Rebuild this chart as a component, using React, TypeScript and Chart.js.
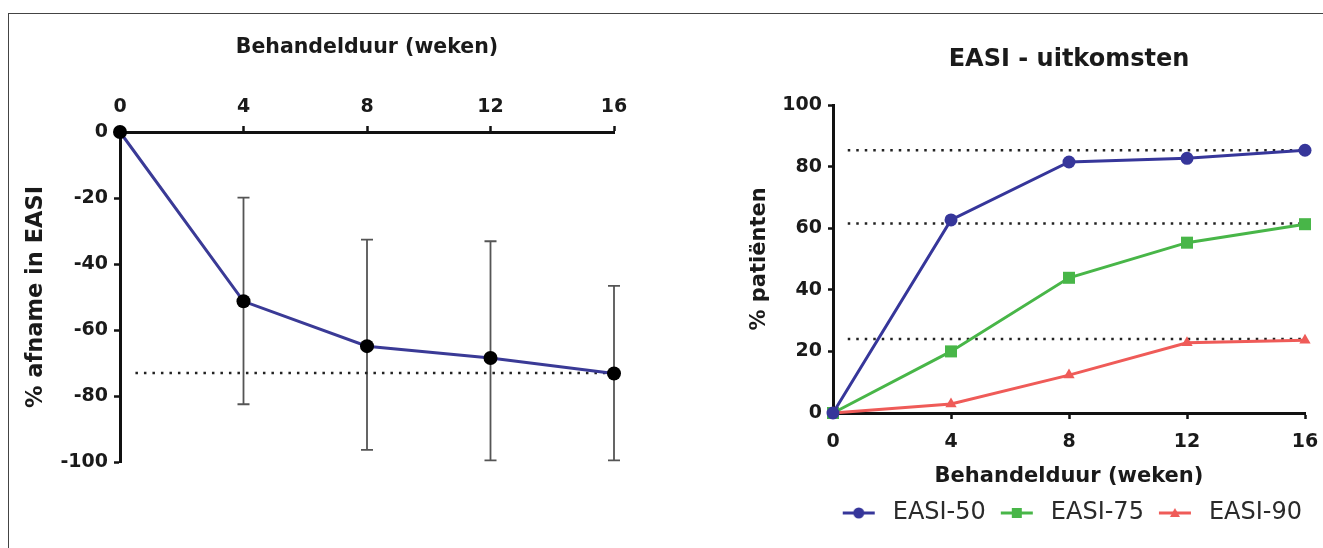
import React, { useEffect, useRef } from 'react';
import { Chart, registerables } from 'chart.js';

Chart.register(...registerables);

// ---------- data ----------
const weeks = [0, 4, 8, 12, 16];
const easiChange = [0, -51.3, -64.9, -68.5, -73.2];
const easiChangeUpper = [0, -19.9, -32.6, -33.1, -46.6];
const easiChangeLower = [0, -82.5, -96.3, -99.5, -99.5];
const leftRefLevel = -73;

const easi50 = [0, 62.7, 81.5, 82.7, 85.3];
const easi75 = [0, 20, 43.9, 55.3, 61.3];
const easi90 = [0, 2.9, 12.3, 22.8, 23.6];
const rightRefLevels = [85.3, 61.5, 24];
const refStart = 0.5;

const seriesLabels = ['EASI-50', 'EASI-75', 'EASI-90'];
const seriesColors = ['#36369a', '#48b648', '#ef5b58'];
const seriesStyles = ['circle', 'rect', 'triangle'];
const seriesRadius = [6.5, 8.5, 6.5];

const leftXTitle = 'Behandelduur (weken)';
const leftYTitle = '% afname in EASI';
const rightTitle = 'EASI - uitkomsten';
const rightXTitle = 'Behandelduur (weken)';
const rightYTitle = '% patiënten';

const FAMILY = "'DejaVu Sans', 'Liberation Sans', sans-serif";

function pts(vals: number[]) {
  return weeks.map((w, i) => ({ x: w, y: vals[i] }));
}

function makeIcon(color: string, style: string) {
  const c = document.createElement('canvas');
  c.width = 42;
  c.height = 16;
  const ctx = c.getContext('2d')!;
  ctx.strokeStyle = color;
  ctx.fillStyle = color;
  ctx.lineWidth = 3;
  ctx.beginPath();
  ctx.moveTo(4, 8);
  ctx.lineTo(36, 8);
  ctx.stroke();
  const cx = 20, cy = 8;
  ctx.beginPath();
  if (style === 'circle') {
    ctx.arc(cx, cy, 5.5, 0, Math.PI * 2);
    ctx.fill();
  } else if (style === 'rect') {
    ctx.fillRect(cx - 5, cy - 5, 10, 10);
  } else {
    ctx.moveTo(cx, cy - 5);
    ctx.lineTo(cx + 5, cy + 4);
    ctx.lineTo(cx - 5, cy + 4);
    ctx.closePath();
    ctx.fill();
  }
  return c;
}

const errorBarPlugin = {
  id: 'errorBars',
  beforeDatasetsDraw(chart: any) {
    const { ctx } = chart;
    const x = chart.scales.x;
    const y = chart.scales.y;
    ctx.save();
    ctx.strokeStyle = '#555';
    ctx.lineWidth = 1.8;
    weeks.forEach((w, i) => {
      const hi = easiChangeUpper[i];
      const lo = easiChangeLower[i];
      if (hi === lo) return;
      const px = x.getPixelForValue(w);
      const y1 = y.getPixelForValue(hi);
      const y2 = y.getPixelForValue(lo);
      ctx.beginPath();
      ctx.moveTo(px, y1);
      ctx.lineTo(px, y2);
      ctx.moveTo(px - 6, y1);
      ctx.lineTo(px + 6, y1);
      ctx.moveTo(px - 6, y2);
      ctx.lineTo(px + 6, y2);
      ctx.stroke();
    });
    ctx.restore();
  },
};

const tickFont = { family: FAMILY, size: 19, weight: 'bold' as const };

export default function App() {
  const leftRef = useRef<HTMLCanvasElement>(null);
  const rightRef = useRef<HTMLCanvasElement>(null);

  useEffect(() => {
    const left = new Chart(leftRef.current!, {
      type: 'line',
      data: {
        datasets: [
          {
            label: 'afname',
            data: pts(easiChange),
            borderColor: '#3a3a96',
            borderWidth: 3,
            tension: 0,
            pointRadius: 7,
            pointBackgroundColor: '#000',
            pointBorderColor: '#000',
            pointBorderWidth: 0,
            order: 0,
            clip: false as any,
          },
          {
            label: 'ref',
            data: [
              { x: refStart, y: leftRefLevel },
              { x: weeks[weeks.length - 1], y: leftRefLevel },
            ],
            borderColor: '#222',
            borderWidth: 2.5,
            borderDash: [2.5, 6],
            pointRadius: 0,
            order: 10,
          },
        ],
      },
      options: {
        responsive: false,
        maintainAspectRatio: false,
        animation: false,
        devicePixelRatio: 1,
        events: [],
        layout: { padding: { left: 0, top: 0, right: 46, bottom: 86 } },
        plugins: { legend: { display: false }, tooltip: { enabled: false }, title: { display: false } },
        scales: {
          x: {
            type: 'linear',
            position: 'top',
            min: 0,
            max: 16,
            ticks: { stepSize: 4, font: tickFont, color: '#1a1a1a', padding: 8, maxRotation: 0 },
            grid: { drawOnChartArea: false, drawTicks: true, tickLength: 6, tickColor: '#111', tickWidth: 2.5 },
            border: { display: true, color: '#111', width: 3 },
            title: {
              display: true,
              text: leftXTitle,
              font: { family: FAMILY, size: 20.5, weight: 'bold' },
              color: '#1a1a1a',
              padding: { top: 35, bottom: 0 },
            },
            afterFit: (s: any) => {
              s.height = 132;
              s.paddingLeft = 0;
              s.paddingRight = 0;
            },
          },
          y: {
            type: 'linear',
            min: -100,
            max: 0,
            ticks: { stepSize: 20, font: tickFont, color: '#1a1a1a', padding: 6 },
            grid: { drawOnChartArea: false, drawTicks: true, tickLength: 6, tickColor: '#111', tickWidth: 2.5 },
            border: { display: true, color: '#111', width: 3 },
            title: {
              display: true,
              text: leftYTitle,
              font: { family: FAMILY, size: 22.5, weight: 'bold' },
              color: '#1a1a1a',
              padding: { top: 22.5, bottom: 0 },
            },
            afterFit: (s: any) => {
              s.width = 120;
              s.paddingTop = 0;
              s.paddingBottom = 0;
            },
          },
        },
      },
      plugins: [errorBarPlugin],
    } as any);

    const icons = seriesColors.map((c, i) => makeIcon(c, seriesStyles[i]));
    const seriesData = [easi50, easi75, easi90];

    const mainSets = seriesLabels.map((label, i) => ({
      label,
      data: pts(seriesData[i]),
      borderColor: seriesColors[i],
      backgroundColor: seriesColors[i],
      borderWidth: 3,
      tension: 0,
      pointStyle: seriesStyles[i],
      pointRadius: seriesRadius[i],
      pointBackgroundColor: seriesColors[i],
      pointBorderColor: seriesColors[i],
      pointBorderWidth: 0,
      order: i,
      clip: false as any,
    }));
    const refSets = rightRefLevels.map((lv) => ({
      label: '',
      data: [
        { x: refStart, y: lv },
        { x: weeks[weeks.length - 1], y: lv },
      ],
      borderColor: '#222',
      borderWidth: 2.5,
      borderDash: [2.5, 6],
      pointRadius: 0,
      order: 10,
    }));

    const right = new Chart(rightRef.current!, {
      type: 'line',
      data: { datasets: [...mainSets, ...refSets] },
      options: {
        responsive: false,
        maintainAspectRatio: false,
        animation: false,
        devicePixelRatio: 1,
        events: [],
        layout: { padding: { left: 0, top: 0, right: 10, bottom: 13 } },
        plugins: {
          tooltip: { enabled: false },
          title: {
            display: true,
            text: rightTitle,
            fullSize: false,
            font: { family: FAMILY, size: 24, weight: 'bold' },
            color: '#1a1a1a',
            padding: { top: 45.6, bottom: 30.6 },
          },
          legend: {
            display: true,
            position: 'bottom',
            align: 'end',
            labels: {
              usePointStyle: true,
              pointStyleWidth: 42,
              padding: 11,
              color: '#2a2a2a',
              font: { family: FAMILY, size: 24, weight: 'normal' },
              generateLabels: () =>
                seriesLabels.map((t, i) => ({
                  text: t,
                  pointStyle: icons[i],
                  fillStyle: seriesColors[i],
                  strokeStyle: seriesColors[i],
                  lineWidth: 0,
                  hidden: false,
                  datasetIndex: i,
                  fontColor: '#2a2a2a',
                })),
            },
          },
        },
        scales: {
          x: {
            type: 'linear',
            position: 'bottom',
            min: 0,
            max: 16,
            ticks: { stepSize: 4, font: tickFont, color: '#1a1a1a', padding: 12, maxRotation: 0 },
            grid: { drawOnChartArea: false, drawTicks: true, tickLength: 6, tickColor: '#111', tickWidth: 2.5 },
            border: { display: true, color: '#111', width: 3 },
            title: {
              display: true,
              text: rightXTitle,
              font: { family: FAMILY, size: 21, weight: 'bold' },
              color: '#1a1a1a',
              padding: { top: 0, bottom: 0.5 },
            },
            afterFit: (s: any) => {
              s.height = 77;
              s.paddingLeft = 0;
              s.paddingRight = 18;
            },
          },
          y: {
            type: 'linear',
            min: 0,
            max: 100,
            ticks: { stepSize: 20, font: tickFont, color: '#1a1a1a', padding: 6 },
            grid: { drawOnChartArea: false, drawTicks: true, tickLength: 5, tickColor: '#111', tickWidth: 2.5 },
            border: { display: true, color: '#111', width: 3 },
            title: {
              display: true,
              text: rightYTitle,
              font: { family: FAMILY, size: 21, weight: 'bold' },
              color: '#1a1a1a',
              padding: { top: 87, bottom: 0 },
            },
            afterFit: (s: any) => {
              s.width = 173;
              s.paddingTop = 0;
              s.paddingBottom = 0;
            },
          },
        },
      },
    } as any);

    return () => {
      left.destroy();
      right.destroy();
    };
  }, []);

  return (
    <div
      style={{
        position: 'fixed',
        left: 0,
        top: 0,
        width: 1323,
        height: 548,
        overflow: 'hidden',
        background: '#fff',
      }}
    >
      <div
        style={{
          position: 'absolute',
          left: 8,
          top: 13,
          width: 1400,
          height: 600,
          border: '1.5px solid #444',
          boxSizing: 'border-box',
        }}
      />
      <canvas
        ref={leftRef}
        width={660}
        height={548}
        style={{ position: 'absolute', left: 0, top: 0, width: 660, height: 548 }}
      />
      <canvas
        ref={rightRef}
        width={663}
        height={548}
        style={{ position: 'absolute', left: 660, top: 0, width: 663, height: 548 }}
      />
    </div>
  );
}
